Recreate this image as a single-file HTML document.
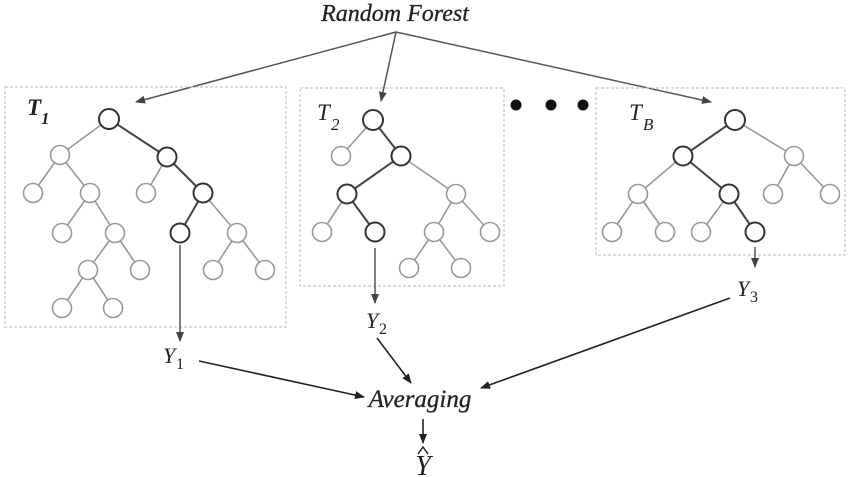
<!DOCTYPE html>
<html><head><meta charset="utf-8"><style>
html,body{margin:0;padding:0;background:#fff;}
svg{display:block;}
text{font-family:"Liberation Serif",serif;fill:#222;}
</style></head><body>
<svg width="850" height="477" viewBox="0 0 850 477" xmlns="http://www.w3.org/2000/svg">
<defs>
<marker id="a" markerWidth="10" markerHeight="8" refX="9" refY="4" orient="auto" markerUnits="userSpaceOnUse">
<path d="M0,0 L10,4 L0,8 Z" fill="#222"/></marker>
<marker id="g" markerWidth="10" markerHeight="8" refX="9" refY="4" orient="auto" markerUnits="userSpaceOnUse">
<path d="M0,0 L10,4 L0,8 Z" fill="#444"/></marker>
</defs>

<text x="395" y="21" font-size="24" font-style="italic" text-anchor="middle" stroke="#222" stroke-width="0.3">Random Forest</text>
<g stroke="#555" stroke-width="1.5" fill="none">
<line x1="396" y1="32" x2="136" y2="102" marker-end="url(#g)"/>
<line x1="396" y1="32" x2="381" y2="101" marker-end="url(#g)"/>
<line x1="396" y1="32" x2="711" y2="102" marker-end="url(#g)"/>
</g>

<g stroke="#c8c8c8" stroke-width="1.3" stroke-dasharray="3,2" fill="none">
<rect x="5" y="87" width="281" height="240"/>
<rect x="300" y="88" width="204" height="198"/>
<rect x="596" y="88" width="249" height="167"/>
</g>

<g fill="#111"><circle cx="516" cy="105" r="5.5"/><circle cx="551" cy="105" r="5.5"/><circle cx="583" cy="105" r="5.5"/></g>

<g font-style="italic" font-size="23">
<text x="27" y="115" font-weight="bold">T</text><text x="41" y="124" font-size="17" font-weight="bold">1</text>
<text x="317" y="120">T</text><text x="331" y="130" font-size="17">2</text>
<text x="629" y="120">T</text><text x="643" y="130" font-size="17">B</text>
</g>

<!-- Tree 1 edges -->
<g stroke="#999" stroke-width="1.6">
<line x1="109" y1="119" x2="60" y2="155"/>
<line x1="60" y1="155" x2="33" y2="193"/><line x1="60" y1="155" x2="90" y2="193"/>
<line x1="167" y1="157" x2="146" y2="193"/>
<line x1="90" y1="193" x2="62" y2="233"/><line x1="90" y1="193" x2="115" y2="233"/>
<line x1="203" y1="193" x2="237" y2="233"/>
<line x1="115" y1="233" x2="88" y2="270"/><line x1="115" y1="233" x2="140" y2="270"/>
<line x1="237" y1="233" x2="213" y2="270"/><line x1="237" y1="233" x2="265" y2="270"/>
<line x1="88" y1="270" x2="62" y2="308"/><line x1="88" y1="270" x2="113" y2="308"/>
</g>
<g stroke="#444" stroke-width="2">
<line x1="109" y1="119" x2="167" y2="157"/><line x1="167" y1="157" x2="203" y2="193"/><line x1="203" y1="193" x2="180" y2="233"/>
</g>
<g fill="#fff" stroke="#999" stroke-width="1.6">
<circle cx="60" cy="155" r="9.5"/><circle cx="33" cy="193" r="9.5"/><circle cx="90" cy="193" r="9.5"/><circle cx="146" cy="193" r="9.5"/>
<circle cx="62" cy="233" r="9.5"/><circle cx="115" cy="233" r="9.5"/><circle cx="237" cy="233" r="9.5"/>
<circle cx="88" cy="270" r="9.5"/><circle cx="140" cy="270" r="9.5"/><circle cx="213" cy="270" r="9.5"/><circle cx="265" cy="270" r="9.5"/>
<circle cx="62" cy="308" r="9.5"/><circle cx="113" cy="308" r="9.5"/>
</g>
<g fill="#fff" stroke="#333" stroke-width="2">
<circle cx="109" cy="119" r="10"/><circle cx="167" cy="157" r="9.5"/><circle cx="203" cy="193" r="9.5"/><circle cx="180" cy="233" r="9.5"/>
</g>

<!-- Tree 2 -->
<g stroke="#999" stroke-width="1.6">
<line x1="373" y1="120" x2="341" y2="156"/>
<line x1="401" y1="156" x2="456" y2="194"/>
<line x1="347" y1="194" x2="322" y2="232"/>
<line x1="456" y1="194" x2="434" y2="232"/><line x1="456" y1="194" x2="490" y2="232"/>
<line x1="434" y1="232" x2="409" y2="268"/><line x1="434" y1="232" x2="461" y2="268"/>
</g>
<g stroke="#444" stroke-width="2">
<line x1="373" y1="120" x2="401" y2="156"/><line x1="401" y1="156" x2="347" y2="194"/><line x1="347" y1="194" x2="375" y2="232"/>
</g>
<g fill="#fff" stroke="#999" stroke-width="1.6">
<circle cx="341" cy="156" r="9.5"/><circle cx="456" cy="194" r="9.5"/><circle cx="322" cy="232" r="9.5"/>
<circle cx="434" cy="232" r="9.5"/><circle cx="490" cy="232" r="9.5"/><circle cx="409" cy="268" r="9.5"/><circle cx="461" cy="268" r="9.5"/>
</g>
<g fill="#fff" stroke="#333" stroke-width="2">
<circle cx="373" cy="120" r="10"/><circle cx="401" cy="156" r="9.5"/><circle cx="347" cy="194" r="9.5"/><circle cx="375" cy="232" r="9.5"/>
</g>

<!-- Tree B -->
<g stroke="#999" stroke-width="1.6">
<line x1="735" y1="120" x2="794" y2="156"/>
<line x1="683" y1="156" x2="638" y2="194"/>
<line x1="794" y1="156" x2="773" y2="194"/><line x1="794" y1="156" x2="830" y2="194"/>
<line x1="638" y1="194" x2="612" y2="232"/><line x1="638" y1="194" x2="665" y2="232"/>
<line x1="729" y1="194" x2="701" y2="232"/>
</g>
<g stroke="#444" stroke-width="2">
<line x1="735" y1="120" x2="683" y2="156"/><line x1="683" y1="156" x2="729" y2="194"/><line x1="729" y1="194" x2="755" y2="232"/>
</g>
<g fill="#fff" stroke="#999" stroke-width="1.6">
<circle cx="794" cy="156" r="9.5"/><circle cx="638" cy="194" r="9.5"/><circle cx="773" cy="194" r="9.5"/><circle cx="830" cy="194" r="9.5"/>
<circle cx="612" cy="232" r="9.5"/><circle cx="665" cy="232" r="9.5"/><circle cx="701" cy="232" r="9.5"/>
</g>
<g fill="#fff" stroke="#333" stroke-width="2">
<circle cx="735" cy="120" r="10"/><circle cx="683" cy="156" r="9.5"/><circle cx="729" cy="194" r="9.5"/><circle cx="755" cy="232" r="9.5"/>
</g>

<!-- outputs -->
<g stroke="#555" stroke-width="1.5">
<line x1="180" y1="245" x2="180" y2="341" marker-end="url(#g)"/>
<line x1="375" y1="248" x2="375" y2="303" marker-end="url(#g)"/>
<line x1="755" y1="247" x2="755" y2="267" marker-end="url(#g)"/>
</g>
<g font-size="22">
<text x="163" y="363" font-style="italic">Y</text><text x="176" y="369" font-size="16">1</text>
<text x="366" y="328" font-style="italic">Y</text><text x="379" y="334" font-size="16">2</text>
<text x="737" y="296" font-style="italic">Y</text><text x="750" y="302" font-size="16">3</text>
</g>
<g stroke="#222" stroke-width="1.6">
<line x1="199" y1="361" x2="364" y2="397" marker-end="url(#a)"/>
<line x1="377" y1="338" x2="411" y2="383" marker-end="url(#a)"/>
<line x1="730" y1="298" x2="481" y2="388" marker-end="url(#a)"/>
<line x1="423" y1="419" x2="423" y2="443" marker-end="url(#a)"/>
</g>
<text x="420" y="407" font-size="25" font-style="italic" text-anchor="middle" stroke="#222" stroke-width="0.3">Averaging</text>
<text x="423" y="475" font-size="28" font-style="italic" text-anchor="middle">Y</text>
<path d="M418,454 L423,447 L428,454" fill="none" stroke="#222" stroke-width="1.5"/>
</svg>
</body></html>
